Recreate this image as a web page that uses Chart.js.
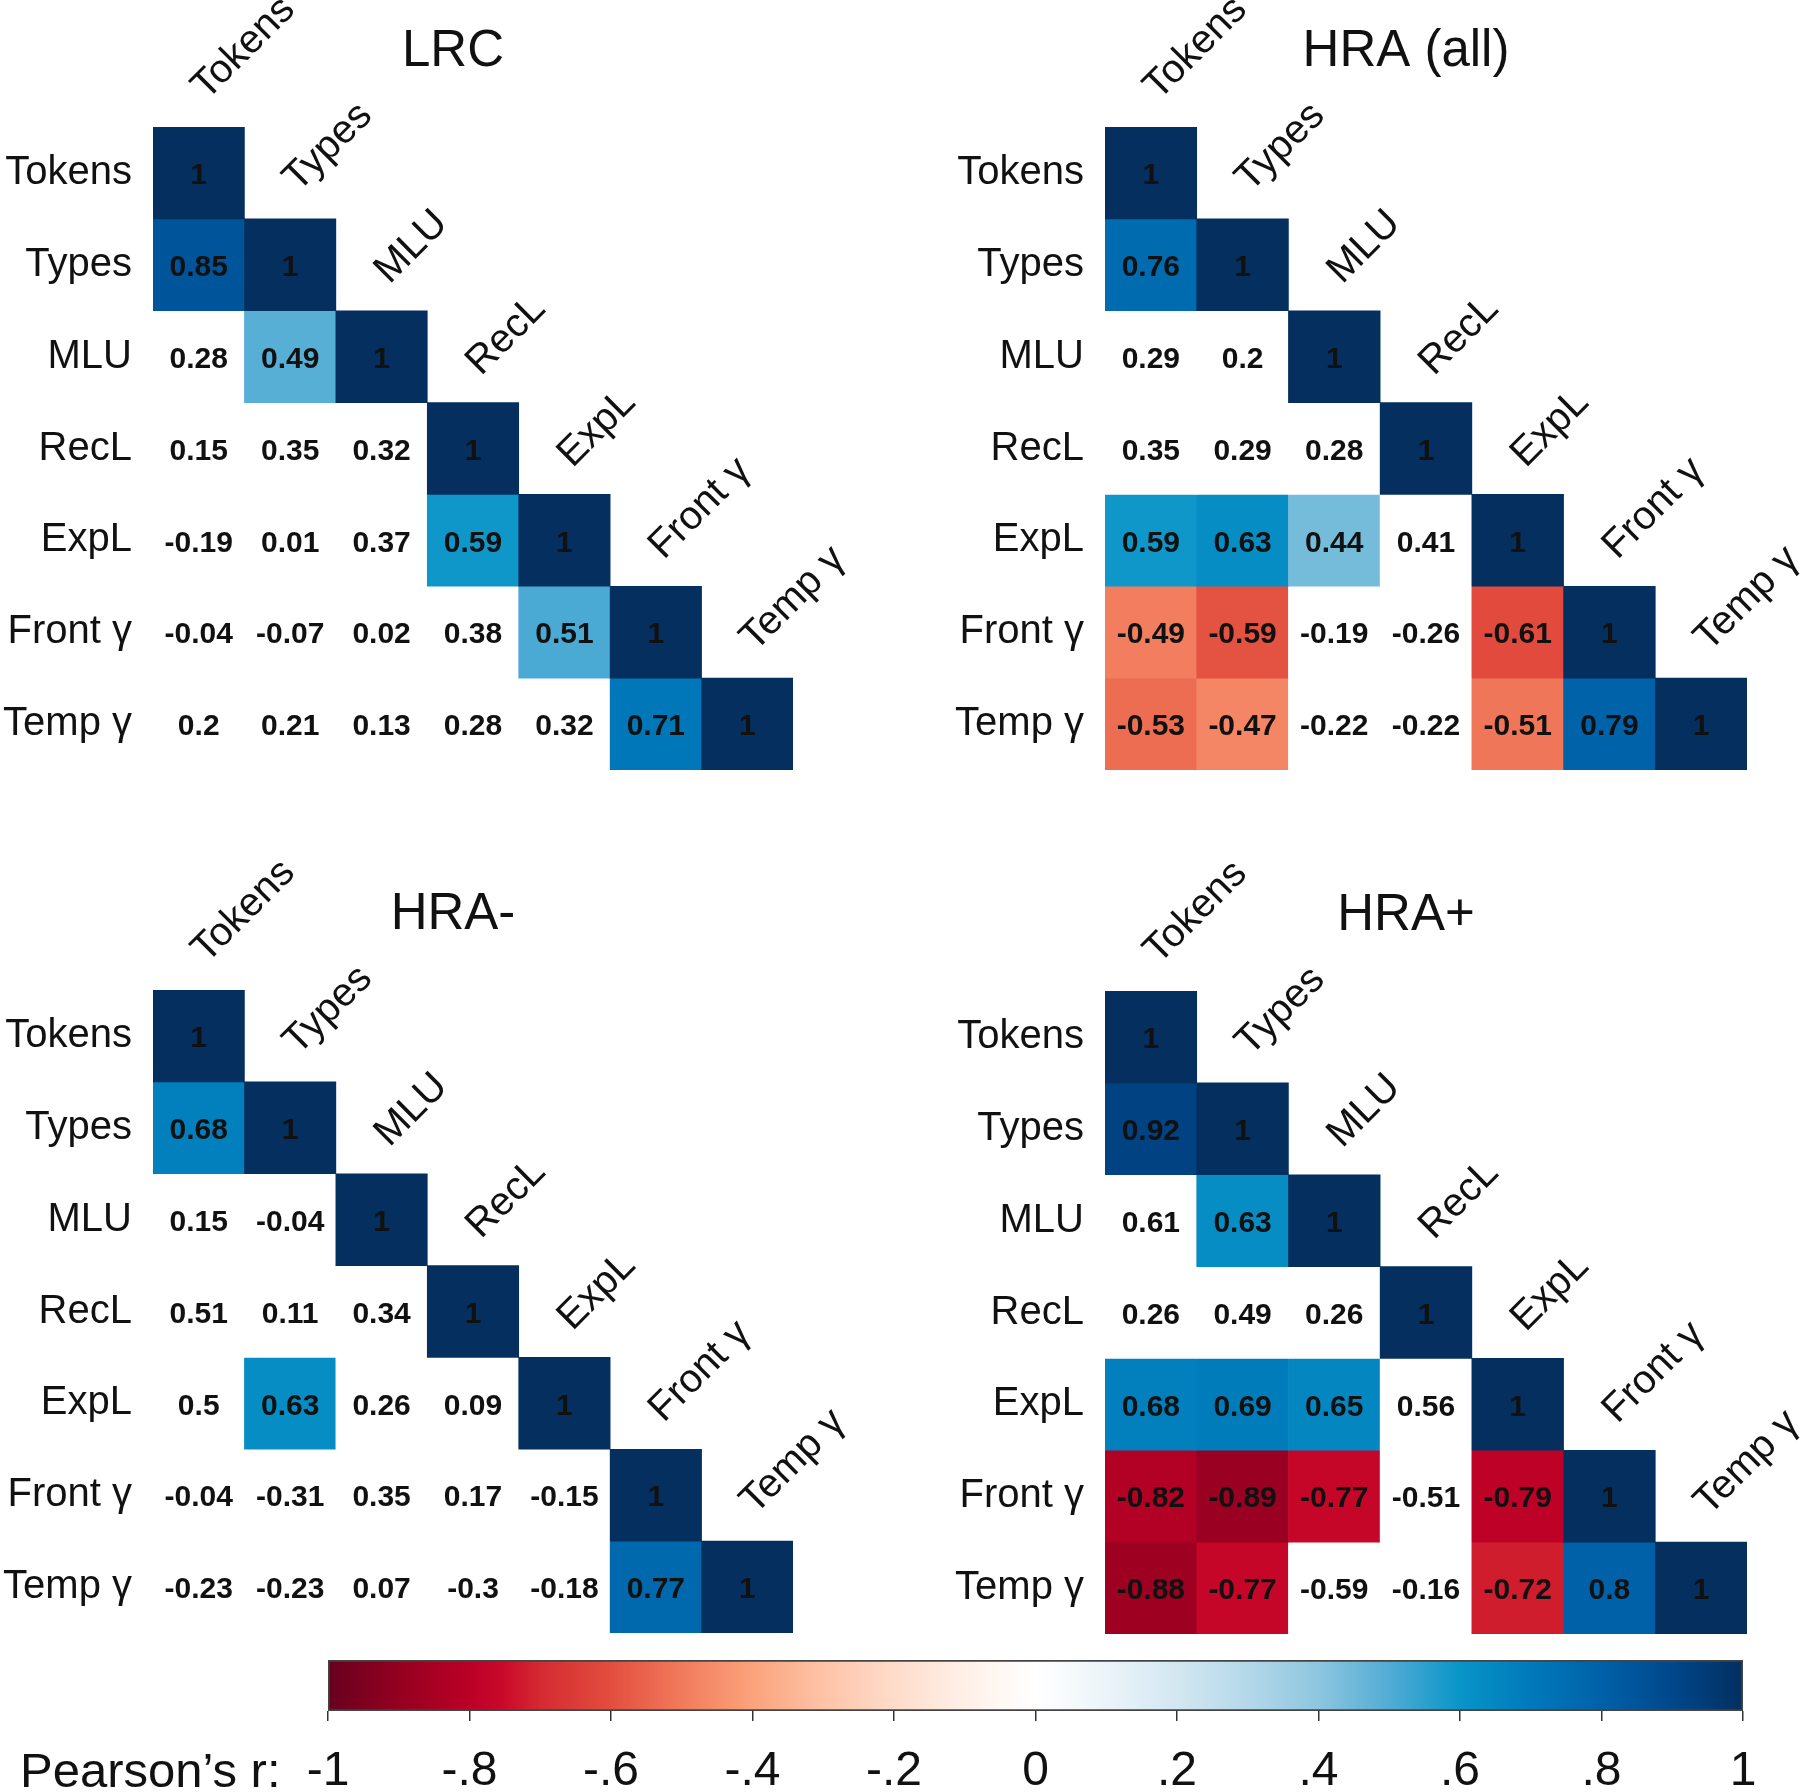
<!DOCTYPE html>
<html>
<head>
<meta charset="utf-8">
<script src="https://cdn.jsdelivr.net/npm/chart.js@4.4.1/dist/chart.umd.min.js"></script>
<style>
  body { margin: 0; background: #fff; }
  #page { position: relative; width: 1800px; height: 1792px; overflow: hidden; }
  canvas { position: absolute; }
</style>
</head>
<body>
<div id="page">
  <canvas id="lrc" width="900" height="815" style="left:0;top:0"></canvas>
  <canvas id="hraAll" width="900" height="815" style="left:900px;top:0"></canvas>
  <canvas id="hraMinus" width="900" height="815" style="left:0;top:863px"></canvas>
  <canvas id="hraPlus" width="900" height="815" style="left:900px;top:864px"></canvas>
  <canvas id="colorbar" width="1800" height="152" style="left:0;top:1640px"></canvas>
</div>
<script>
const rowNames = ["Tokens", "Types", "MLU", "RecL", "ExpL", "Front γ", "Temp γ"];
const colNames = ["Tokens", "Types", "MLU", "RecL", "ExpL", "Front γ", "Temp γ"];

// lower triangle, diagonal included
const lrcValues = [
    [1],
    [0.85, 1],
    [0.28, 0.49, 1],
    [0.15, 0.35, 0.32, 1],
    [-0.19, 0.01, 0.37, 0.59, 1],
    [-0.04, -0.07, 0.02, 0.38, 0.51, 1],
    [0.2, 0.21, 0.13, 0.28, 0.32, 0.71, 1]
];
const lrcSig = [
    [1],
    [1, 1],
    [0, 1, 1],
    [0, 0, 0, 1],
    [0, 0, 0, 1, 1],
    [0, 0, 0, 0, 1, 1],
    [0, 0, 0, 0, 0, 1, 1]
];

const hraAllValues = [
    [1],
    [0.76, 1],
    [0.29, 0.2, 1],
    [0.35, 0.29, 0.28, 1],
    [0.59, 0.63, 0.44, 0.41, 1],
    [-0.49, -0.59, -0.19, -0.26, -0.61, 1],
    [-0.53, -0.47, -0.22, -0.22, -0.51, 0.79, 1]
];
const hraAllSig = [
    [1],
    [1, 1],
    [0, 0, 1],
    [0, 0, 0, 1],
    [1, 1, 1, 0, 1],
    [1, 1, 0, 0, 1, 1],
    [1, 1, 0, 0, 1, 1, 1]
];

const hraMinusValues = [
    [1],
    [0.68, 1],
    [0.15, -0.04, 1],
    [0.51, 0.11, 0.34, 1],
    [0.5, 0.63, 0.26, 0.09, 1],
    [-0.04, -0.31, 0.35, 0.17, -0.15, 1],
    [-0.23, -0.23, 0.07, -0.3, -0.18, 0.77, 1]
];
const hraMinusSig = [
    [1],
    [1, 1],
    [0, 0, 1],
    [0, 0, 0, 1],
    [0, 1, 0, 0, 1],
    [0, 0, 0, 0, 0, 1],
    [0, 0, 0, 0, 0, 1, 1]
];

const hraPlusValues = [
    [1],
    [0.92, 1],
    [0.61, 0.63, 1],
    [0.26, 0.49, 0.26, 1],
    [0.68, 0.69, 0.65, 0.56, 1],
    [-0.82, -0.89, -0.77, -0.51, -0.79, 1],
    [-0.88, -0.77, -0.59, -0.16, -0.72, 0.8, 1]
];
const hraPlusSig = [
    [1],
    [1, 1],
    [0, 1, 1],
    [0, 0, 0, 1],
    [1, 1, 1, 0, 1],
    [1, 1, 1, 0, 1, 1],
    [1, 1, 0, 0, 1, 1, 1]
];

const cbTicks = [-1, -0.8, -0.6, -0.4, -0.2, 0, 0.2, 0.4, 0.6, 0.8, 1];
const cbTickLabels = ["-1", "-.8", "-.6", "-.4", "-.2", "0", ".2", ".4", ".6", ".8", "1"];

const FONT = '"Liberation Sans", Arial, Helvetica, sans-serif';
const INK = "#111111";

// red-white-blue palette
const palette = [
    [-1.0, "#67001f"], [-0.9, "#950020"], [-0.8, "#bb0026"], [-0.75, "#cb0a2a"],
    [-0.7, "#d42a31"], [-0.6, "#e34e3e"], [-0.5, "#f17a5c"], [-0.4, "#fba37c"],
    [-0.3, "#fdc3a7"], [-0.2, "#fedcca"], [-0.1, "#fff0e8"], [0, "#ffffff"],
    [0.1, "#ebf4f9"], [0.2, "#d3e7f1"], [0.3, "#b4d8ea"], [0.4, "#8dc6df"],
    [0.5, "#52acd4"], [0.6, "#0895c8"], [0.7, "#0079ba"], [0.8, "#0061a8"],
    [0.9, "#00478b"], [1.0, "#042f5f"]
];

function hexToRgb(h) {
    return [1, 3, 5].map(i => parseInt(h.substr(i, 2), 16));
}

function rdbu(v) {
    for (let k = 0; k < palette.length - 1; k++) {
        const [v0, c0] = palette[k];
        const [v1, c1] = palette[k + 1];
        if (v >= v0 && v <= v1) {
            const t = (v - v0) / (v1 - v0);
            const a = hexToRgb(c0), b = hexToRgb(c1);
            const rgb = a.map((x, i) => Math.round(x + (b[i] - x) * t));
            return "rgb(" + rgb.join(",") + ")";
        }
    }
    return v < 0 ? palette[0][1] : palette[palette.length - 1][1];
}

function buildPanel(canvasId, title, values, sig, axisWidth, padRight) {
    const datasets = values.map((row, i) => ({
        label: rowNames[i],
        data: colNames.map((c, j) => j <= i ? [i, i + 1] : null),
        backgroundColor: colNames.map((c, j) => (j <= i && sig[i][j]) ? rdbu(row[j]) : "#ffffff"),
        borderWidth: 0,
        barPercentage: 1,
        categoryPercentage: 1,
        grouped: false
    }));

    // numbers in the cells, rotated column names and the panel title
    const panelText = {
        id: "panelText",
        afterDatasetsDraw(chart) {
            const ctx = chart.ctx;
            ctx.save();
            ctx.font = "bold 30px " + FONT;
            ctx.fillStyle = INK;
            ctx.textAlign = "center";
            ctx.textBaseline = "middle";
            chart.data.datasets.forEach((ds, i) => {
                chart.getDatasetMeta(i).data.forEach((bar, j) => {
                    if (ds.data[j] === null) return;
                    ctx.fillText(String(values[i][j]), bar.x, (bar.y + bar.base) / 2 + 3);
                });
            });
            ctx.restore();
        },
        afterDraw(chart) {
            const ctx = chart.ctx;
            const xs = chart.scales.x, ys = chart.scales.y;
            ctx.save();
            ctx.fillStyle = INK;
            ctx.font = "40px " + FONT;
            ctx.textAlign = "left";
            ctx.textBaseline = "alphabetic";
            colNames.forEach((name, j) => {
                ctx.save();
                ctx.translate(xs.getPixelForValue(j) + 8, ys.getPixelForValue(j) - 26);
                ctx.rotate(-Math.PI / 4);
                ctx.fillText(name, 0, 0);
                ctx.restore();
            });
            const area = chart.chartArea;
            ctx.font = "51px " + FONT;
            ctx.textAlign = "center";
            ctx.textBaseline = "middle";
            ctx.fillText(title, (area.left + area.right) / 2 - 20, 52);
            ctx.restore();
        }
    };

    return new Chart(document.getElementById(canvasId), {
        type: "bar",
        data: { labels: colNames, datasets: datasets },
        options: {
            responsive: false,
            animation: false,
            layout: { padding: { left: 0, right: padRight, top: 127, bottom: 31 } },
            plugins: { legend: { display: false }, tooltip: { enabled: false } },
            scales: {
                x: { type: "category", display: false },
                y: {
                    type: "linear",
                    min: 0,
                    max: 7,
                    reverse: true,
                    afterBuildTicks: (axis) => {
                        axis.ticks = rowNames.map((n, i) => ({ value: i + 0.5 }));
                    },
                    afterFit: (axis) => { axis.width = axisWidth; },
                    ticks: {
                        autoSkip: false,
                        padding: 21,
                        color: INK,
                        font: { size: 40, family: FONT },
                        callback: (v) => rowNames[Math.floor(v)]
                    },
                    grid: { display: false, drawTicks: false },
                    border: { display: false }
                }
            }
        },
        plugins: [panelText]
    });
}

buildPanel("lrc", "LRC", lrcValues, lrcSig, 153, 107);
buildPanel("hraAll", "HRA (all)", hraAllValues, hraAllSig, 205, 53);
buildPanel("hraMinus", "HRA-", hraMinusValues, hraMinusSig, 153, 107);
buildPanel("hraPlus", "HRA+", hraPlusValues, hraPlusSig, 205, 53);

// colour bar
const cbLabel = {
    id: "cbLabel",
    afterDraw(chart) {
        const ctx = chart.ctx;
        ctx.save();
        ctx.fillStyle = INK;
        ctx.font = "49px " + FONT;
        ctx.textAlign = "left";
        ctx.textBaseline = "middle";
        ctx.fillText("Pearson’s r:", 20, 133);
        ctx.restore();
    }
};

new Chart(document.getElementById("colorbar"), {
    type: "bar",
    data: {
        labels: ["r"],
        datasets: [{
            data: [[-1, 1]],
            backgroundColor: (c) => {
                const area = c.chart.chartArea;
                if (!area) return "#ffffff";
                const g = c.chart.ctx.createLinearGradient(area.left, 0, area.right, 0);
                palette.forEach(([v, col]) => g.addColorStop((v + 1) / 2, col));
                return g;
            },
            borderColor: "#444444",
            borderWidth: 2,
            borderSkipped: false,
            barPercentage: 1,
            categoryPercentage: 1
        }]
    },
    options: {
        indexAxis: "y",
        responsive: false,
        animation: false,
        layout: { padding: { left: 328, right: 57, top: 20, bottom: 0 } },
        plugins: { legend: { display: false }, tooltip: { enabled: false } },
        scales: {
            y: { display: false },
            x: {
                type: "linear",
                min: -1,
                max: 1,
                afterBuildTicks: (axis) => {
                    axis.ticks = cbTicks.map(v => ({ value: v }));
                },
                afterFit: (axis) => { axis.height = 81; },
                ticks: {
                    autoSkip: false,
                    maxRotation: 0,
                    padding: 22,
                    color: INK,
                    font: { size: 48, family: FONT },
                    callback: (v, i) => cbTickLabels[i]
                },
                grid: { drawOnChartArea: false, drawTicks: true, tickLength: 10, color: "#333333", lineWidth: 1.5 },
                border: { display: false }
            }
        }
    },
    plugins: [cbLabel]
});
</script>
</body>
</html>
